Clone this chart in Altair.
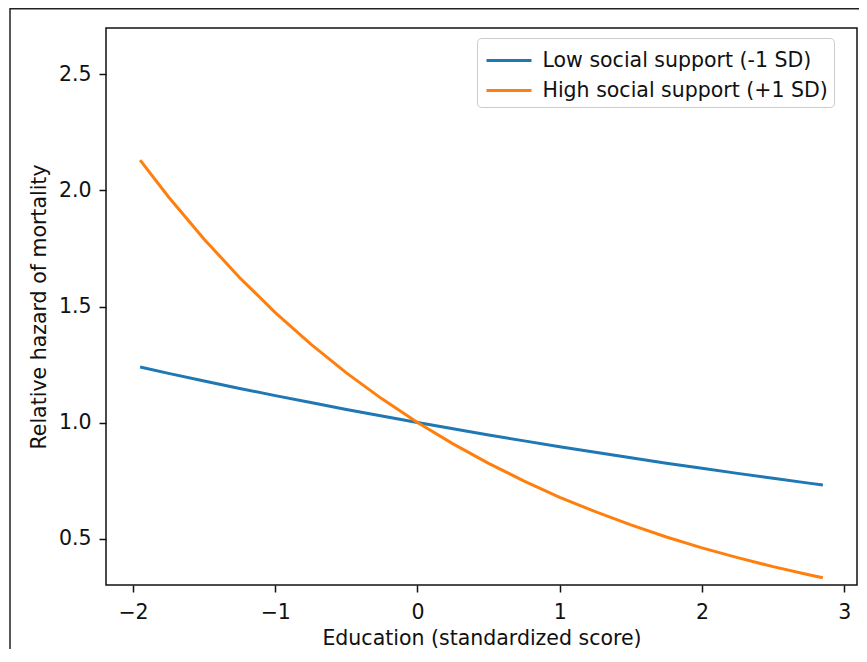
import altair as alt
import pandas as pd

# Education (standardized score) sample positions
education = [-1.95, -1.75, -1.5, -1.25, -1.0, -0.75, -0.5, -0.25, 0.0, 0.25,
             0.5, 0.75, 1.0, 1.25, 1.5, 1.75, 2.0, 2.25, 2.5, 2.75, 2.85]

# Relative hazard of mortality
low_support = [1.239, 1.212, 1.179, 1.147, 1.116, 1.086, 1.056, 1.028, 1.000, 0.973,
               0.946, 0.921, 0.896, 0.872, 0.848, 0.825, 0.803, 0.781, 0.760, 0.739, 0.731]
high_support = [2.131, 1.972, 1.790, 1.624, 1.474, 1.338, 1.214, 1.102, 1.000, 0.908,
                0.824, 0.748, 0.678, 0.616, 0.559, 0.507, 0.460, 0.418, 0.379, 0.344, 0.331]

series_names = ["Low social support (-1 SD)", "High social support (+1 SD)"]
series_colors = ["#1f77b4", "#ff7f0e"]

x_ticks = [-2, -1, 0, 1, 2, 3]
y_ticks = [0.5, 1.0, 1.5, 2.0, 2.5]

rows = []
for i, x in enumerate(education):
    rows.append({"education": x, "hazard": low_support[i], "series": series_names[0], "order": 0})
    rows.append({"education": x, "hazard": high_support[i], "series": series_names[1], "order": 1})
df = pd.DataFrame(rows)

FONT = "DejaVu Sans"
FS = 20.5

lines = alt.Chart(df).mark_line(strokeWidth=3, clip=True).encode(
    x=alt.X("education:Q",
            scale=alt.Scale(domain=[-2.19, 3.09], nice=False, zero=False),
            axis=alt.Axis(values=x_ticks, format="d", title="Education (standardized score)",
                          labelPadding=10, titlePadding=6)),
    y=alt.Y("hazard:Q",
            scale=alt.Scale(domain=[0.3, 2.7], nice=False, zero=False),
            axis=alt.Axis(values=y_ticks, format=".1f", title="Relative hazard of mortality",
                          labelPadding=8, titlePadding=9)),
    color=alt.Color("series:N",
                    scale=alt.Scale(domain=series_names, range=series_colors),
                    legend=alt.Legend(title=None, orient="none", legendX=371, legendY=10,
                                      symbolType="M-1.5,0L1.5,0", symbolSize=900,
                                      symbolStrokeWidth=3, symbolOffset=9.5,
                                      labelFontSize=FS, labelFont=FONT, labelColor="#111",
                                      labelOffset=17, rowPadding=3, padding=6,
                                      strokeColor="#cccccc", fillColor="rgba(255,255,255,0.8)",
                                      cornerRadius=4, labelLimit=400)),
    detail="order:O",
)

frame = alt.Chart(pd.DataFrame({"k": [0]})).mark_rect(
    fill=None, stroke="#222", strokeWidth=1.5, clip=False
).encode(x=alt.value(-96), x2=alt.value(760), y=alt.value(-19.25), y2=alt.value(700))

chart = alt.layer(frame, lines).properties(
    width=751, height=557,
    autosize=alt.AutoSizeParams(type="none"),
    padding={"left": 98, "top": 20, "right": 2, "bottom": 64},
).configure_view(
    stroke="#111", strokeWidth=1.5
).configure_axis(
    labelFont=FONT, titleFont=FONT, labelFontSize=FS, titleFontSize=FS,
    labelColor="#111", titleColor="#111", titleFontWeight="normal",
    tickColor="#111", tickWidth=1.5, tickSize=7, domain=False, grid=False,
)

chart.save("out.html", embed_options={"renderer": "svg", "actions": False})
